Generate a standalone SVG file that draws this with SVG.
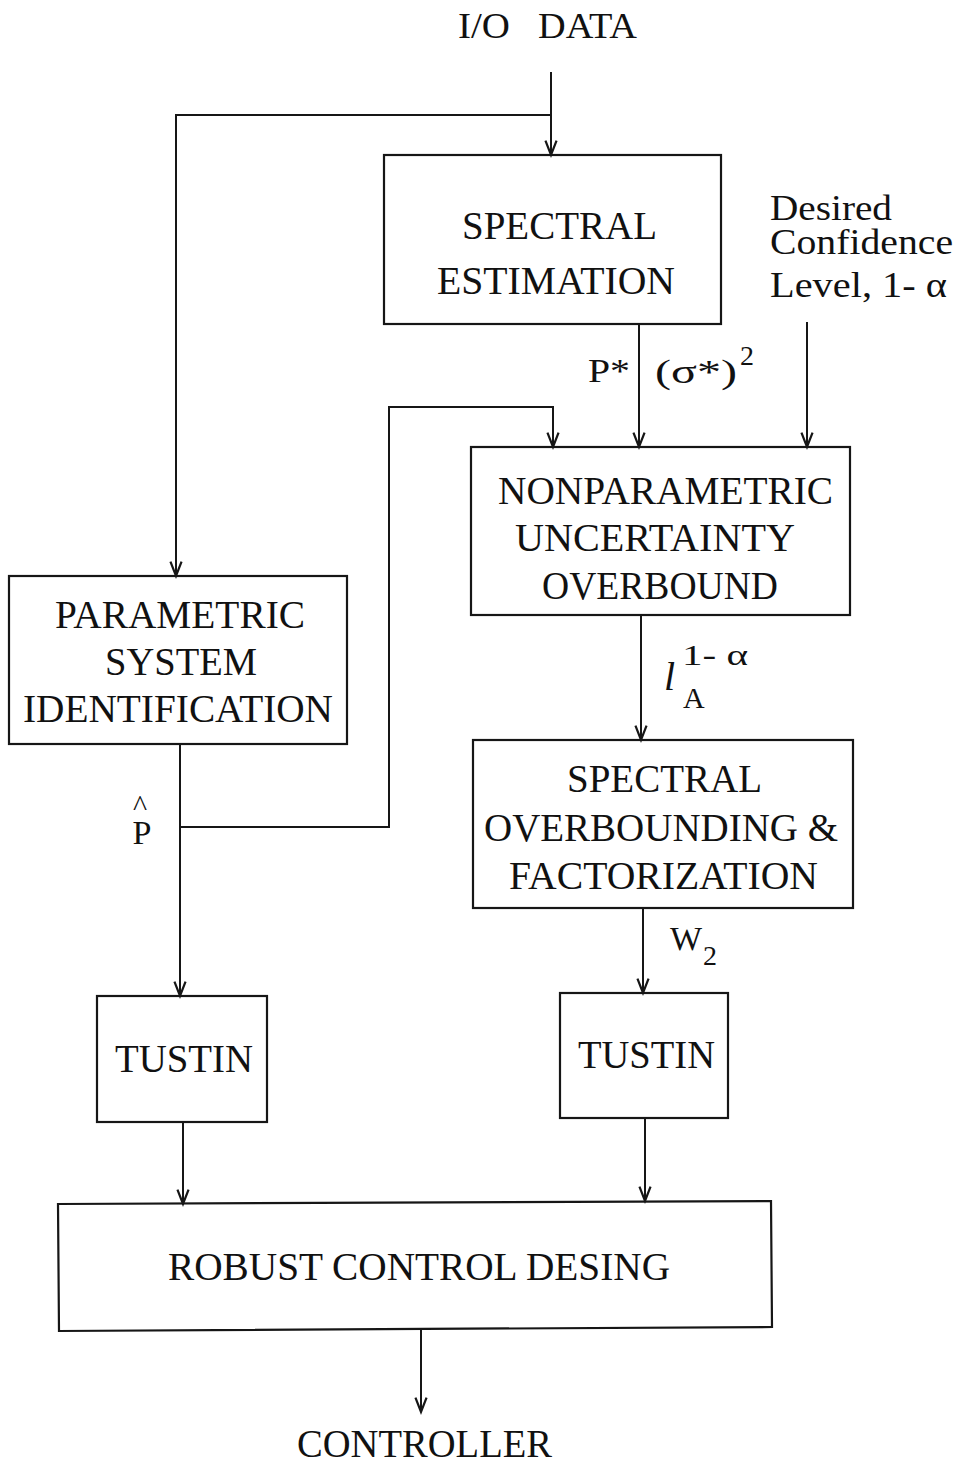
<svg xmlns="http://www.w3.org/2000/svg" width="958" height="1466" viewBox="0 0 958 1466">
  <style>
    .box { fill: none; stroke: #161616; stroke-width: 2.2; }
    .wire { fill: none; stroke: #161616; stroke-width: 2; }
    text { font-family: "Liberation Serif", "Times New Roman", serif; fill: #111; }
    .t40 { font-size: 40px; }
    .t36 { font-size: 36px; }
    .t34 { font-size: 34px; }
    .t30 { font-size: 30px; }
    .t28 { font-size: 28px; }
  </style>
  <defs>
    <marker id="arrow" markerUnits="userSpaceOnUse" markerWidth="20" markerHeight="20" refX="0" refY="0" viewBox="-16 -8 18 16" orient="auto" overflow="visible">
      <path d="M-13,-5 L0,0 L-13,5" fill="none" stroke="#161616" stroke-width="2"/>
    </marker>
  </defs>
  <rect x="0" y="0" width="958" height="1466" fill="#ffffff"/>

  <!-- free-standing labels -->
  <g id="io-data">
    <text class="t36" x="458" y="38" textLength="52" lengthAdjust="spacingAndGlyphs">I/O</text>
    <text class="t36" x="538" y="38" textLength="99" lengthAdjust="spacingAndGlyphs">DATA</text>
  </g>
  <g id="confidence-input">
    <text class="t36" x="770" y="220" textLength="122" lengthAdjust="spacingAndGlyphs">Desired</text>
    <text class="t36" x="770" y="254" textLength="183" lengthAdjust="spacingAndGlyphs">Confidence</text>
    <text class="t36" x="770" y="297" textLength="177" lengthAdjust="spacingAndGlyphs">Level, 1- α</text>
  </g>
  <g id="controller-output">
    <text class="t40" x="297" y="1457" textLength="255" lengthAdjust="spacingAndGlyphs">CONTROLLER</text>
  </g>

  <!-- blocks -->
  <g id="spectral-estimation">
    <rect class="box" x="384" y="155" width="337" height="169"/>
    <text class="t40" x="462" y="239" textLength="195" lengthAdjust="spacingAndGlyphs">SPECTRAL</text>
    <text class="t40" x="437" y="294" textLength="238" lengthAdjust="spacingAndGlyphs">ESTIMATION</text>
  </g>
  <g id="nonparametric-overbound">
    <rect class="box" x="471" y="447" width="379" height="168"/>
    <text class="t40" x="498" y="504" textLength="335" lengthAdjust="spacingAndGlyphs">NONPARAMETRIC</text>
    <text class="t40" x="515" y="551" textLength="280" lengthAdjust="spacingAndGlyphs">UNCERTAINTY</text>
    <text class="t40" x="542" y="599" textLength="236" lengthAdjust="spacingAndGlyphs">OVERBOUND</text>
  </g>
  <g id="parametric-identification">
    <rect class="box" x="9" y="576" width="338" height="168"/>
    <text class="t40" x="55" y="628" textLength="250" lengthAdjust="spacingAndGlyphs">PARAMETRIC</text>
    <text class="t40" x="105" y="675" textLength="152" lengthAdjust="spacingAndGlyphs">SYSTEM</text>
    <text class="t40" x="23" y="722" textLength="310" lengthAdjust="spacingAndGlyphs">IDENTIFICATION</text>
  </g>
  <g id="spectral-overbounding">
    <rect class="box" x="473" y="740" width="380" height="168"/>
    <text class="t40" x="567" y="792" textLength="195" lengthAdjust="spacingAndGlyphs">SPECTRAL</text>
    <text class="t40" x="484" y="841" textLength="354" lengthAdjust="spacingAndGlyphs">OVERBOUNDING &amp;</text>
    <text class="t40" x="509" y="889" textLength="309" lengthAdjust="spacingAndGlyphs">FACTORIZATION</text>
  </g>
  <g id="tustin-left">
    <rect class="box" x="97" y="996" width="170" height="126"/>
    <text class="t40" x="115" y="1072" textLength="138" lengthAdjust="spacingAndGlyphs">TUSTIN</text>
  </g>
  <g id="tustin-right">
    <rect class="box" x="560" y="993" width="168" height="125"/>
    <text class="t40" x="578" y="1068" textLength="137" lengthAdjust="spacingAndGlyphs">TUSTIN</text>
  </g>
  <g id="robust-control-design">
    <polygon class="box" points="58,1204 771,1201 772,1327 59,1331"/>
    <text class="t40" x="168" y="1280" textLength="502" lengthAdjust="spacingAndGlyphs">ROBUST CONTROL DESING</text>
  </g>

  <!-- connectors -->
  <g id="connectors">
    <path class="wire" d="M551,72 V155" marker-end="url(#arrow)"/>
    <path class="wire" d="M551,115 H176 V576" marker-end="url(#arrow)"/>
    <path class="wire" d="M639,325 V447" marker-end="url(#arrow)"/>
    <path class="wire" d="M807,322 V447" marker-end="url(#arrow)"/>
    <path class="wire" d="M180,744 V996" marker-end="url(#arrow)"/>
    <path class="wire" d="M180,827 H389 V407 H553 V447" marker-end="url(#arrow)"/>
    <path class="wire" d="M641,615 V740" marker-end="url(#arrow)"/>
    <path class="wire" d="M643,908 V993" marker-end="url(#arrow)"/>
    <path class="wire" d="M183,1122 V1204" marker-end="url(#arrow)"/>
    <path class="wire" d="M645,1118 V1201" marker-end="url(#arrow)"/>
    <path class="wire" d="M421,1330 V1412" marker-end="url(#arrow)"/>
  </g>

  <!-- signal labels -->
  <g id="signal-labels">
    <text class="t34" x="588" y="382" textLength="42" lengthAdjust="spacingAndGlyphs">P*</text>
    <text class="t34" x="655" y="383" textLength="82" lengthAdjust="spacingAndGlyphs">(σ*)</text>
    <text class="t28" x="740" y="365">2</text>
    <text class="t34" x="142" y="844" text-anchor="middle">P</text>
    <text class="t30" x="140" y="816" text-anchor="middle">^</text>
    <text class="t40" x="664" y="690" font-style="italic">l</text>
    <text class="t30" x="682" y="665" textLength="66" lengthAdjust="spacingAndGlyphs">1- α</text>
    <text class="t30" x="683" y="708">A</text>
    <text class="t34" x="670" y="950">W</text>
    <text class="t28" x="703" y="965">2</text>
  </g>
</svg>
